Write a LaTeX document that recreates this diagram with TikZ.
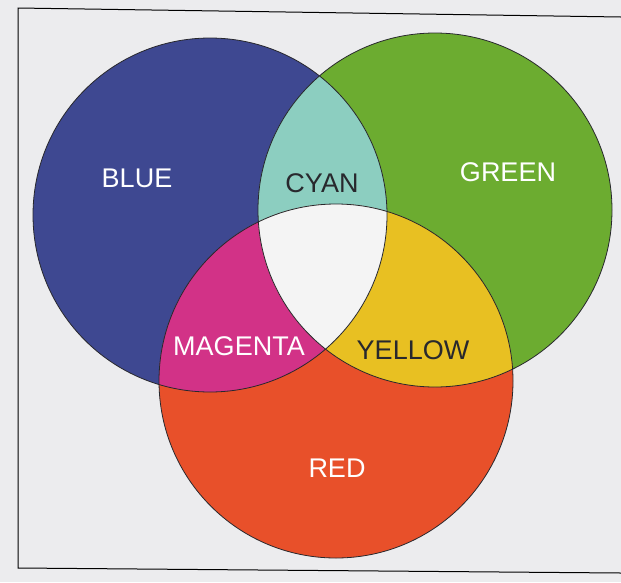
\documentclass[tikz,border=0pt]{standalone}
\usepackage{fontspec}
\setmainfont{Liberation Sans}
\definecolor{bgpaper}{RGB}{236,236,238}
\definecolor{cblue}{RGB}{62,72,145}
\definecolor{cgreen}{RGB}{108,172,48}
\definecolor{ccyan}{RGB}{140,206,192}
\definecolor{cmagenta}{RGB}{210,50,135}
\definecolor{cyellow}{RGB}{232,192,34}
\definecolor{cred}{RGB}{232,80,42}
\definecolor{cwhite}{RGB}{244,244,244}
\definecolor{cdark}{RGB}{40,40,45}
\begin{document}
\begin{tikzpicture}[x=1pt, y=-1pt,
    colorname/.style={font=\fontsize{27}{30}\selectfont, inner sep=0pt},
    rim/.style={draw=cdark, line width=0.8pt}]
	% Khung giay
	\useasboundingbox[fill=bgpaper] (0,0) rectangle (621,582);
	\coordinate (F1) at (621,17);
	\coordinate (F2) at (18,8);
	\coordinate (F3) at (18,568);
	\coordinate (F4) at (621,573);
	\draw[line width=1pt, black] (F1) -- (F2) -- (F3) -- (F4);
	
	% Tam cua ba hinh tron
	\coordinate (B) at (210,215);
	\coordinate (G) at (435,210);
	\coordinate (R) at (336,381);
	\def\rad{177pt}
	
	% To mau ba hinh tron
	\fill[cblue] (B) circle (\rad);
	\fill[cgreen] (G) circle (\rad);
	\fill[cred] (R) circle (\rad);
	
	% Cac phan giao nhau
	\begin{scope}
		\clip (B) circle (\rad);
		\fill[ccyan] (G) circle (\rad);
		\fill[cmagenta] (R) circle (\rad);
	\end{scope}
	\begin{scope}
		\clip (G) circle (\rad);
		\fill[cyellow] (R) circle (\rad);
		\clip (B) circle (\rad);
		\fill[cwhite] (R) circle (\rad);
	\end{scope}
	
	% Vien
	\draw[rim] (B) circle (\rad);
	\draw[rim] (G) circle (\rad);
	\draw[rim] (R) circle (\rad);
	
	% Ten cac mau
	\node[colorname, text=white] (blue) at (137,178) {BLUE};
	\node[colorname, text=white] (green) at (508,172) {GREEN};
	\node[colorname, text=cdark] (cyan) at (322,183) {CYAN};
	\node[colorname, text=white] (magenta) at (239,346) {MAGENTA};
	\node[colorname, text=cdark] (yellow) at (413,350) {YELLOW};
	\node[colorname, text=white] (red) at (337,468) {RED};
\end{tikzpicture}
\end{document}
